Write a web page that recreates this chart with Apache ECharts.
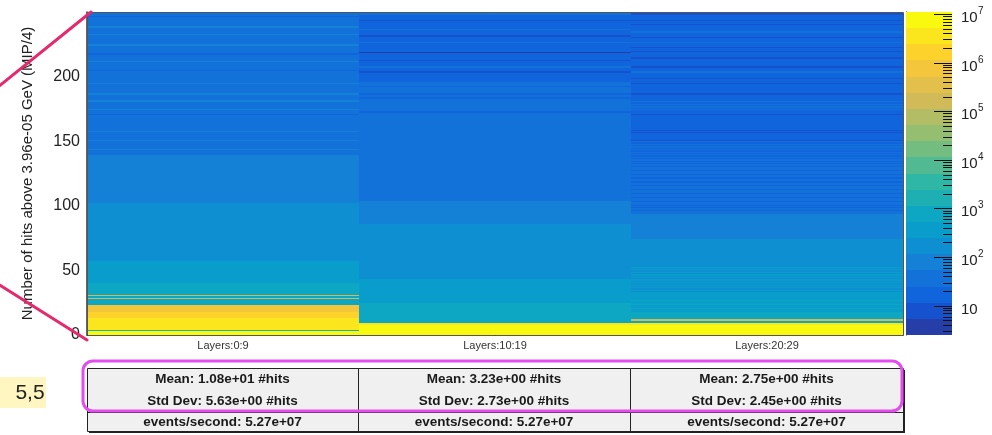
<!DOCTYPE html>
<html>
<head>
<meta charset="utf-8">
<script src="https://cdn.jsdelivr.net/npm/echarts@6/dist/echarts.min.js"></script>
<style>
  html, body { margin: 0; padding: 0; background: #ffffff; }
  #chart { width: 992px; height: 435px; }
</style>
</head>
<body>
<div id="chart"></div>
<script>
// ---- data -------------------------------------------------------------
const layerGroups = ['Layers:0:9', 'Layers:10:19', 'Layers:20:29'];

// entries per 1-hit bin, bins 0..249
const hitsLayers0to9 = [
  6.2e6, 6.2e6, 6.0e6, 1500, 3.2e6, 3.4e6, 3.5e6, 3.5e6, 3.4e6, 3.3e6,
  3.1e6, 2.8e6, 2.6e6, 2.0e6, 1.8e6, 1.6e6, 1.5e6, 1.3e6, 9.0e5, 8.0e5,
  7.0e5, 6.5e5, 6.0e5, 820, 800, 780, 760, 740, 1.8e5, 720,
  1.6e5, 700, 690, 680, 660, 650, 630, 620, 600, 580,
  520, 510, 500, 495, 490, 485, 480, 470, 460, 450,
  440, 430, 420, 410, 400, 380, 360, 230, 225, 220,
  215, 212, 210, 208, 205, 200, 198, 195, 192, 190,
  188, 185, 182, 180, 178, 175, 172, 170, 168, 165,
  162, 160, 158, 155, 152, 150, 148, 146, 144, 142,
  140, 138, 136, 134, 132, 130, 128, 126, 124, 122,
  120, 118, 105, 100, 98, 96, 94, 92, 90, 88,
  87, 86, 85, 84, 83, 82, 81, 80, 79, 78,
  77, 76, 75, 74, 73, 72, 71, 70, 69, 68,
  67, 66, 65, 64, 63, 62, 60, 58, 56, 50,
  48, 47, 46, 56, 45, 44, 43, 42, 41, 40,
  58, 40, 39, 39, 38, 38, 37, 57, 37, 36,
  36, 36, 35, 35, 35, 34, 34, 34, 33, 33,
  22, 33, 33, 32, 57, 32, 32, 32, 31, 31,
  56, 57, 31, 31, 30, 30, 56, 30, 30, 30,
  29, 29, 29, 29, 56, 29, 28, 28, 28, 28,
  28, 28, 27, 28, 22, 28, 27, 28, 27, 28,
  27, 56, 27, 28, 27, 27, 27, 22, 27, 27,
  28, 27, 27, 27, 56, 27, 27, 28, 27, 27,
  27, 27, 56, 27, 27, 27, 28, 27, 56, 27,
  27, 28, 27, 27, 28, 27, 22, 27, 27, 28
];
const hitsLayers10to19 = [
  7.0e6, 7.2e6, 7.1e6, 6.9e6, 6.8e6, 6.5e6, 6.2e6, 5.8e6, 3.0e6, 1000,
  980, 960, 950, 940, 920, 900, 880, 860, 840, 820,
  800, 780, 760, 740, 720, 520, 510, 500, 490, 480,
  470, 460, 450, 440, 430, 420, 410, 400, 390, 380,
  370, 360, 350, 240, 235, 230, 225, 220, 215, 210,
  205, 200, 198, 195, 192, 190, 188, 185, 182, 180,
  178, 175, 172, 170, 168, 165, 162, 160, 158, 155,
  152, 150, 148, 145, 142, 140, 138, 135, 132, 130,
  128, 126, 124, 122, 120, 118, 112, 108, 105, 102,
  100, 98, 96, 94, 92, 90, 88, 86, 84, 82,
  80, 78, 76, 74, 52, 50, 48, 47, 46, 45,
  44, 43, 43, 42, 42, 41, 41, 40, 40, 39,
  39, 38, 38, 37, 37, 36, 36, 35, 35, 34,
  34, 34, 33, 33, 33, 32, 32, 32, 31, 31,
  31, 30, 30, 30, 29, 29, 29, 28, 28, 28,
  28, 27, 27, 27, 28, 27, 26, 27, 26, 27,
  27, 26, 27, 26, 26, 27, 27, 26, 26, 26,
  27, 26, 22, 26, 27, 27, 26, 27, 27, 26,
  27, 27, 26, 23, 27, 26, 21, 26, 26, 27,
  26, 26, 21, 26, 26, 27, 20, 19, 19, 18,
  18, 17, 17, 8, 17, 17, 16, 28, 17, 16,
  17, 16, 8, 17, 16, 16, 17, 16, 4, 16,
  16, 16, 17, 16, 16, 16, 28, 16, 16, 15,
  16, 8, 15, 16, 16, 15, 28, 16, 15, 16,
  15, 16, 15, 8, 15, 16, 15, 15, 28, 15
];
const hitsLayers20to29 = [
  7.0e6, 7.2e6, 7.1e6, 6.9e6, 6.7e6, 6.4e6, 6.0e6, 5.6e6, 3.0e6, 1000,
  950, 2.0e5, 750, 720, 700, 680, 660, 640, 480, 470,
  600, 460, 450, 580, 440, 430, 560, 420, 410, 400,
  390, 380, 370, 240, 300, 235, 290, 230, 280, 225,
  275, 220, 270, 215, 265, 210, 260, 205, 255, 200,
  252, 198, 250, 195, 192, 190, 188, 185, 182, 180,
  178, 175, 172, 170, 168, 165, 162, 160, 158, 155,
  152, 150, 148, 145, 110, 108, 105, 102, 100, 98,
  96, 94, 92, 90, 88, 86, 84, 82, 80, 78,
  76, 74, 72, 70, 52, 36, 21, 36, 20, 35,
  20, 35, 34, 20, 34, 33, 19, 33, 32, 19,
  32, 31, 19, 31, 30, 18, 30, 29, 18, 29,
  28, 18, 28, 27, 17, 27, 26, 17, 26, 40,
  17, 26, 17, 25.5, 17, 26, 16, 25.5, 16, 26,
  16, 25.5, 16, 26, 16, 25.5, 16, 26, 15, 25.5,
  8, 16, 15, 16, 15, 16, 8, 15, 8, 16,
  15, 16, 15, 15, 16, 15, 15, 15, 16, 15,
  8, 15, 15, 15, 28, 15, 28, 15, 28, 15,
  28, 15, 15, 15, 15, 14, 8, 15, 15, 14,
  15, 15, 14, 15, 8, 14, 15, 15, 8, 14,
  15, 14, 15, 28, 15, 14, 15, 8, 14, 15,
  14, 15, 14, 14, 8, 14, 15, 14, 14, 8,
  14, 14, 8, 14, 15, 14, 28, 14, 14, 15,
  8, 14, 14, 15, 28, 14, 14, 14, 13, 14,
  8, 14, 14, 8, 14, 13, 14, 14, 7, 14
];

const statMean   = ['Mean: 1.08e+01 #hits', 'Mean: 3.23e+00 #hits', 'Mean: 2.75e+00 #hits'];
const statStdDev = ['Std Dev: 5.63e+00 #hits', 'Std Dev: 2.73e+00 #hits', 'Std Dev: 2.45e+00 #hits'];
const statRate   = ['events/second: 5.27e+07', 'events/second: 5.27e+07', 'events/second: 5.27e+07'];

const yAxisTitle = 'Number of hits above 3.96e-05 GeV (MIP/4)';
const colorbarExponents = [1, 2, 3, 4, 5, 6, 7];
const zRange = [2.5, 1.1e7];
const binRange = [0, 250];
const noteLabel = '5,5';

// ---- styling ----------------------------------------------------------
const FONT = '"Liberation Sans", Arial, Helvetica, sans-serif';
const N_CONTOURS = 20;
const PLOT = { left: 87, top: 12, right: 903, bottom: 335 };
const BAR = { left: 906, right: 952 };

// kBird gradient, 255-entry table, one colour per contour band
const BIRD_STOPS = [0, 0.125, 0.25, 0.375, 0.5, 0.625, 0.75, 0.875, 1];
const BIRD_R = [0.2082, 0.0592, 0.0780, 0.0232, 0.1802, 0.5301, 0.8186, 0.9956, 0.9764];
const BIRD_G = [0.1664, 0.3599, 0.5041, 0.6419, 0.7178, 0.7492, 0.7328, 0.7862, 0.9832];
const BIRD_B = [0.5293, 0.8684, 0.8385, 0.7914, 0.6425, 0.4662, 0.3499, 0.1968, 0.0539];
const N_TABLE = 255;
const colorTable = [];
for (let g = 0; g < BIRD_STOPS.length - 1; g++) {
  const n = Math.floor(N_TABLE * BIRD_STOPS[g + 1]) - Math.floor(N_TABLE * BIRD_STOPS[g]);
  for (let j = 0; j < n; j++) {
    const f = j / n;
    const ch = (a) => Math.round(255 * (a[g] + (a[g + 1] - a[g]) * f));
    colorTable.push('rgb(' + ch(BIRD_R) + ',' + ch(BIRD_G) + ',' + ch(BIRD_B) + ')');
  }
}
const palette = [];
for (let k = 0; k < N_CONTOURS; k++) {
  palette.push(colorTable[Math.min(Math.floor((k + 0.99) * N_TABLE / N_CONTOURS), N_TABLE - 1)]);
}

const logMin = Math.log10(zRange[0]);
const logMax = Math.log10(zRange[1]);
const logStep = (logMax - logMin) / N_CONTOURS;
const pieces = palette.map((color, k) => {
  const p = { color: color };
  if (k > 0) p.gte = logMin + k * logStep;
  if (k < N_CONTOURS - 1) p.lt = logMin + (k + 1) * logStep;
  return p;
});

// ---- series data -------------------------------------------------------
const columns = [hitsLayers0to9, hitsLayers10to19, hitsLayers20to29];
const cells = [];
columns.forEach((arr, c) => {
  arr.forEach((n, b) => { if (n > 0) cells.push([c, b, Math.log10(n)]); });
});

const bands = palette.map((color, k) => [
  Math.pow(10, logMin + k * logStep), Math.pow(10, logMin + (k + 1) * logStep), k
]);

const barTicks = [];
for (let e = 0; e <= 7; e++) {
  for (let d = 1; d <= 9; d++) {
    const v = d * Math.pow(10, e);
    if (v >= zRange[0] && v <= zRange[1]) {
      const ex = (d === 1 && colorbarExponents.indexOf(e) >= 0) ? e : 0;
      barTicks.push([v, ex]);
    }
  }
}

// ---- renderers ---------------------------------------------------------
function renderCell(params, api) {
  const c = api.value(0), b = api.value(1);
  const lo = api.coord([c, b]);
  const hi = api.coord([c, b + 1]);
  const w = api.size([1, 0])[0];
  const x0 = Math.round(lo[0] - w / 2), x1 = Math.round(lo[0] + w / 2);
  const y0 = Math.round(lo[1]), y1 = Math.round(hi[1]);
  if (y0 <= y1) return null;
  return {
    type: 'rect',
    shape: { x: x0, y: y1, width: x1 - x0, height: y0 - y1 },
    style: { fill: api.visual('color') }
  };
}

function renderBand(params, api) {
  const cs = params.coordSys;
  const y0 = Math.round(api.coord([0, api.value(0)])[1]);
  const y1 = Math.round(api.coord([0, api.value(1)])[1]);
  return {
    type: 'rect',
    shape: { x: cs.x, y: y1, width: cs.width, height: y0 - y1 },
    style: { fill: palette[api.value(2)] }
  };
}

function renderBarTick(params, api) {
  const cs = params.coordSys;
  const xr = cs.x + cs.width;
  const ex = api.value(1);
  const y = Math.round(api.coord([0, api.value(0)])[1]) + 0.5;
  const len = ex > 0 ? 18 : 9;
  const children = [{
    type: 'line',
    shape: { x1: xr - len, y1: y, x2: xr, y2: y },
    style: { stroke: '#111', lineWidth: 1 }
  }];
  if (ex > 0) {
    children.push({
      type: 'text',
      style: { text: '10', x: xr + 9, y: y + 3, font: '15px ' + FONT, fill: '#222', align: 'left', verticalAlign: 'middle' }
    });
    if (ex > 1) {
      children.push({
        type: 'text',
        style: { text: String(ex), x: xr + 26, y: y - 3, font: '10px ' + FONT, fill: '#222', align: 'left', verticalAlign: 'middle' }
      });
    }
  }
  return { type: 'group', children: children };
}

// ---- overlays: stats table, notes -------------------------------------
const graphics = [];
const colEdges = [87, 358, 630, 903];
const TBL = { top: 368, bottom: 431, split: 412 };
for (let c = 0; c < 3; c++) {
  const x0 = colEdges[c], x1 = colEdges[c + 1];
  graphics.push({
    type: 'rect', z: 10,
    shape: { x: x0 + 2, y: TBL.top + 2, width: x1 - x0, height: TBL.bottom - TBL.top },
    style: { fill: '#222' }
  });
  graphics.push({
    type: 'rect', z: 11,
    shape: { x: x0 + 0.5, y: TBL.top + 0.5, width: x1 - x0, height: TBL.bottom - TBL.top },
    style: { fill: '#f0f0f0', stroke: '#222', lineWidth: 1 }
  });
  graphics.push({
    type: 'line', z: 12,
    shape: { x1: x0, y1: TBL.split + 0.5, x2: x1, y2: TBL.split + 0.5 },
    style: { stroke: '#222', lineWidth: 1 }
  });
  const cx = (x0 + x1) / 2;
  [[statMean[c], 379], [statStdDev[c], 401], [statRate[c], 422]].forEach(([t, y]) => {
    graphics.push({
      type: 'text', z: 13,
      style: { text: t, x: cx, y: y, font: 'bold 13.5px ' + FONT, fill: '#1a1a1a', align: 'center', verticalAlign: 'middle' }
    });
  });
}
// highlight frame around mean / std dev rows
graphics.push({
  type: 'rect', z: 20,
  shape: { x: 83, y: 361, width: 819, height: 50, r: 10 },
  style: { fill: 'none', stroke: '#e44cf0', lineWidth: 3 }
});
// note label
graphics.push({
  type: 'rect', z: 5,
  shape: { x: 0, y: 377, width: 46, height: 31 },
  style: { fill: '#fff6c2' }
});
graphics.push({
  type: 'text', z: 6,
  style: { text: noteLabel, x: 30, y: 393, font: '21px ' + FONT, fill: '#222', align: 'center', verticalAlign: 'middle' }
});
// guide strokes near the y axis
graphics.push({
  type: 'line', z: 30,
  shape: { x1: -2, y1: 87, x2: 91, y2: 12 },
  style: { stroke: '#e6286c', lineWidth: 3, lineCap: 'round' }
});
graphics.push({
  type: 'line', z: 30,
  shape: { x1: -2, y1: 284, x2: 87, y2: 340 },
  style: { stroke: '#e6286c', lineWidth: 3, lineCap: 'round' }
});
// plot frame
graphics.push({
  type: 'rect', z: 8,
  shape: { x: PLOT.left + 0.5, y: PLOT.top + 0.5, width: PLOT.right - PLOT.left, height: PLOT.bottom - PLOT.top },
  style: { fill: 'none', stroke: '#555', lineWidth: 1 }
});

// ---- chart -------------------------------------------------------------
const chart = echarts.init(document.getElementById('chart'), null, { renderer: 'canvas' });
chart.setOption({
  animation: false,
  backgroundColor: '#ffffff',
  textStyle: { fontFamily: FONT },
  grid: [
    { left: PLOT.left, top: PLOT.top, width: PLOT.right - PLOT.left, height: PLOT.bottom - PLOT.top,
      containLabel: false, outerBoundsMode: 'none' },
    { left: BAR.left, top: PLOT.top, width: BAR.right - BAR.left, height: PLOT.bottom - PLOT.top,
      containLabel: false, outerBoundsMode: 'none' }
  ],
  xAxis: [
    {
      gridIndex: 0, type: 'category', data: layerGroups, boundaryGap: true,
      axisLine: { show: true, lineStyle: { color: '#222', width: 1 } },
      axisTick: { show: true, inside: true, length: 11, alignWithLabel: false, interval: 0, lineStyle: { color: '#111' } },
      axisLabel: { show: true, interval: 0, margin: 5, fontSize: 11, color: '#333', fontFamily: FONT },
      splitLine: { show: false }
    },
    { gridIndex: 1, type: 'value', min: 0, max: 1, show: false }
  ],
  yAxis: [
    {
      gridIndex: 0, type: 'value', min: binRange[0], max: binRange[1], interval: 50,
      name: yAxisTitle, nameLocation: 'middle', nameRotate: 90, nameGap: 52,
      nameTextStyle: { fontSize: 15, color: '#222', fontFamily: FONT },
      axisLine: { show: true, lineStyle: { color: '#333', width: 1.5 } },
      axisTick: { show: true, inside: true, length: 20, lineStyle: { color: '#111', width: 1 } },
      minorTick: { show: true, splitNumber: 5, length: 10, lineStyle: { color: '#111', width: 1 } },
      axisLabel: { show: true, margin: 7, fontSize: 16, color: '#222', fontFamily: FONT,
                   showMaxLabel: false },
      splitLine: { show: false }, minorSplitLine: { show: false }
    },
    {
      gridIndex: 1, type: 'log', logBase: 10, min: zRange[0], max: zRange[1], position: 'right',
      axisLine: { show: true, lineStyle: { color: '#222', width: 1 } },
      axisTick: { show: false }, axisLabel: { show: false }, splitLine: { show: false }
    }
  ],
  visualMap: {
    type: 'piecewise', show: false, dimension: 2, seriesIndex: 0, pieces: pieces
  },
  series: [
    {
      name: 'hits', type: 'custom', xAxisIndex: 0, yAxisIndex: 0, clip: true,
      renderItem: renderCell, data: cells, encode: { x: 0, y: 1 }, silent: true
    },
    {
      name: 'palette', type: 'custom', xAxisIndex: 1, yAxisIndex: 1,
      renderItem: renderBand, data: bands, encode: { y: [0, 1] }, silent: true
    },
    {
      name: 'zticks', type: 'custom', xAxisIndex: 1, yAxisIndex: 1, z: 5,
      renderItem: renderBarTick, data: barTicks, encode: { y: 0 }, silent: true
    }
  ],
  graphic: graphics
});
</script>
</body>
</html>
